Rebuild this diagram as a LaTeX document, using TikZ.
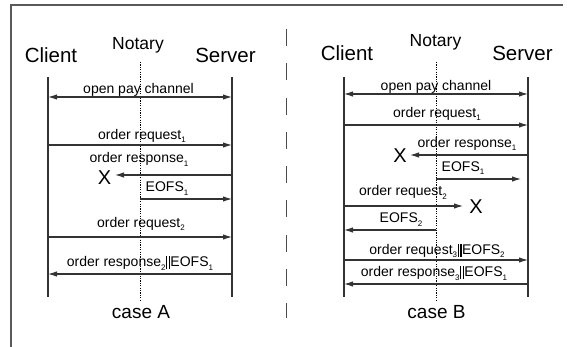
\documentclass[tikz,border=0pt]{standalone}
\usepackage{fontspec}
\setmainfont{Liberation Sans}
\usetikzlibrary{arrows.meta}

% small lowered index used in message labels
\newcommand\lowidx[1]{\raisebox{-3.5pt}{\fontsize{8}{8}\selectfont #1}}
% heavy double bar for concatenated messages
\newcommand\concat{\kern0.5pt\rule[-2.5pt]{1.4pt}{13pt}\kern1.1pt\rule[-2.5pt]{1.4pt}{13pt}\kern0.5pt}

\tikzset{
  frame/.style={draw=black!65, line width=1.4pt},
  divider/.style={draw=black!70, line width=1.2pt, dash pattern=on 17pt off 17.3pt},
  party/.style={font=\fontsize{20.5}{22}\selectfont, inner sep=0pt, anchor=base},
  notaryname/.style={font=\fontsize{17.5}{19}\selectfont, inner sep=0pt, anchor=base},
  lifeline/.style={draw=black!80, line width=1.1pt},
  notaryline/.style={draw=black, line width=0.7pt, dash pattern=on 1.2pt off 1.2pt},
  msg/.style={draw=black!80, line width=1.1pt, -{Latex[length=9pt,width=5.5pt]}},
  bimsg/.style={draw=black!80, line width=1.1pt, {Latex[length=9pt,width=5.5pt]}-{Latex[length=9pt,width=5.5pt]}},
  lbl/.style={font=\fontsize{14}{16}\selectfont, inner sep=0pt, anchor=base},
  lost/.style={font=\fontsize{20}{22}\selectfont, inner sep=0pt},
  caselbl/.style={font=\fontsize{19}{21}\selectfont, inner sep=0pt, anchor=base},
}

\begin{document}
\begin{tikzpicture}[x=1pt,y=-1pt]
\useasboundingbox (0,0) rectangle (567,347);
\fill[white] (0,0) rectangle (567,347);

% outer frame and separator between the two cases
\draw[frame] (11,347) -- (11,5) -- (563,5);
\draw[divider] (286.5,29) -- (286.5,318);

% ---------------- case A ----------------
\node[party] (cliA) at (51,62.7) {Client};
\node[notaryname] (notA) at (138,49.3) {Notary};
\node[party] (srvA) at (225.5,62.7) {Server};

\coordinate (cAt) at (48,77);   \coordinate (cAb) at (48,297);
\coordinate (sAt) at (232,77);  \coordinate (sAb) at (232,297);
\coordinate (nAt) at (140,62);  \coordinate (nAb) at (140,300);
\draw[lifeline] (cAt) -- (cAb);
\draw[lifeline] (sAt) -- (sAb);
\draw[notaryline] (nAt) -- (nAb);

\coordinate (a1c) at (48,97);   \coordinate (a1s) at (232,97);
\coordinate (a2c) at (48,145);  \coordinate (a2s) at (232,145);
\coordinate (a3s) at (232,175); \coordinate (a3x) at (115,175);
\coordinate (a4n) at (140,199); \coordinate (a4s) at (232,199);
\coordinate (a5c) at (48,237);  \coordinate (a5s) at (232,237);
\coordinate (a6s) at (232,274); \coordinate (a6c) at (48,274);

\draw[bimsg] (a1c) -- (a1s);
\draw[msg] (a2c) -- (a2s);
\draw[msg] (a3s) -- (a3x);
\draw[msg] (a4n) -- (a4s);
\draw[msg] (a5c) -- (a5s);
\draw[msg] (a6s) -- (a6c);

\node[lost] (xA) at (104.5,177.5) {X};

\node[lbl] (la1) at (138.5,94) {open pay channel};
\node[lbl] (la2) at (142,139.5) {order request\lowidx{1}};
\node[lbl] (la3) at (139,163) {order response\lowidx{1}};
\node[lbl] (la4) at (167,191.7) {EOFS\lowidx{1}};
\node[lbl] (la5) at (141,227.3) {order request\lowidx{2}};
\node[lbl] (la6) at (140,266.7) {order response\lowidx{2}\concat EOFS\lowidx{1}};

\node[caselbl] (caseA) at (141,318) {case A};

% ---------------- case B ----------------
\node[party] (cliB) at (347,61) {Client};
\node[notaryname] (notB) at (435.5,47) {Notary};
\node[party] (srvB) at (522.5,61) {Server};

\coordinate (cBt) at (344,77);  \coordinate (cBb) at (344,297);
\coordinate (sBt) at (528,77);  \coordinate (sBb) at (528,297);
\coordinate (nBt) at (436,62);  \coordinate (nBb) at (436,300);
\draw[lifeline] (cBt) -- (cBb);
\draw[lifeline] (sBt) -- (sBb);
\draw[notaryline] (nBt) -- (nBb);

\coordinate (b1c) at (344,94);  \coordinate (b1s) at (528,94);
\coordinate (b2c) at (344,125); \coordinate (b2s) at (528,125);
\coordinate (b3s) at (528,155); \coordinate (b3x) at (410,155);
\coordinate (b4n) at (436,179); \coordinate (b4e) at (521,179);
\coordinate (b5c) at (344,206); \coordinate (b5x) at (463,206);
\coordinate (b6n) at (436,230); \coordinate (b6c) at (344,230);
\coordinate (b7c) at (344,260); \coordinate (b7s) at (528,260);
\coordinate (b8s) at (528,284); \coordinate (b8c) at (344,284);

\draw[bimsg] (b1c) -- (b1s);
\draw[msg] (b2c) -- (b2s);
\draw[msg] (b3s) -- (b3x);
\draw[msg] (b4n) -- (b4e);
\draw[msg] (b5c) -- (b5x);
\draw[msg] (b6n) -- (b6c);
\draw[msg] (b7c) -- (b7s);
\draw[msg] (b8s) -- (b8c);

\node[lost] (xB1) at (400,155.5) {X};
\node[lost] (xB2) at (476,206.5) {X};

\node[lbl] (lb1) at (436,90.7) {open pay channel};
\node[lbl] (lb2) at (437,117.3) {order request\lowidx{1}};
\node[lbl] (lb3) at (467,147.3) {order response\lowidx{1}};
\node[lbl] (lb4) at (463,171.5) {EOFS\lowidx{1}};
\node[lbl] (lb5) at (403,196) {order request\lowidx{2}};
\node[lbl] (lb6) at (401,222.7) {EOFS\lowidx{2}};
\node[lbl] (lb7) at (437,254.3) {order request\lowidx{3}\concat EOFS\lowidx{2}};
\node[lbl] (lb8) at (434,276.7) {order response\lowidx{3}\concat EOFS\lowidx{1}};

\node[caselbl] (caseB) at (436.5,318) {case B};
\end{tikzpicture}
\end{document}
